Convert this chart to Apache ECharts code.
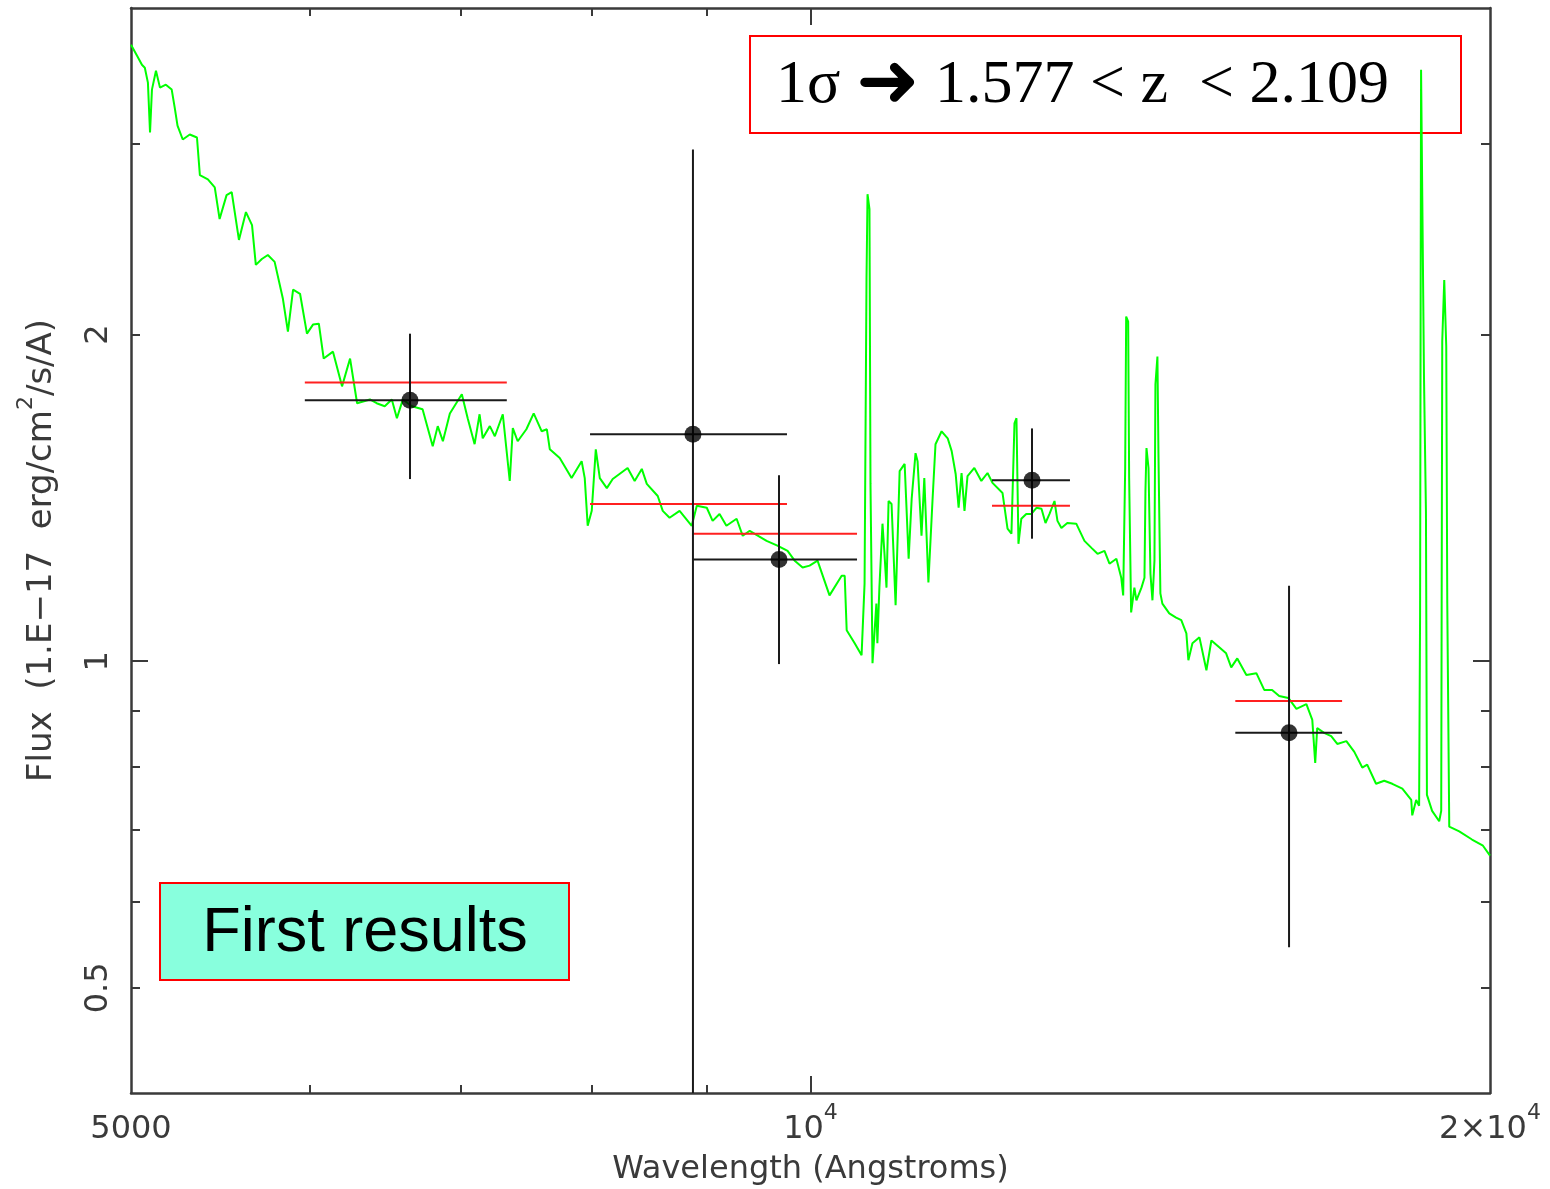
<!DOCTYPE html>
<html>
<head>
<meta charset="utf-8">
<title>Flux vs wavelength</title>
<script src="https://cdn.jsdelivr.net/npm/echarts@6.0.0/dist/echarts.min.js"></script>
<style>
  html, body { margin: 0; padding: 0; background: #fff; }
  #chart { width: 1550px; height: 1189px; }
</style>
</head>
<body>
<div id="chart"></div>
<script>
// template spectrum (Angstrom, 1e-17 erg/cm2/s/A)
const specWave = [
  5000, 5031, 5056, 5071, 5087, 5098, 5108, 5129, 5150, 5181, 5212, 5228, 5243, 5271, 5309, 5348,
  5364, 5408, 5446, 5473, 5512, 5541, 5582, 5622, 5657, 5679, 5714, 5749, 5789, 5838, 5868, 5899,
  5941, 5983, 6020, 6056, 6086, 6144, 6201, 6252, 6297, 6380, 6424, 6477, 6524, 6558, 6598, 6659,
  6732, 6802, 6837, 6873, 6922, 7007, 7049, 7099, 7135, 7158, 7210, 7247, 7306, 7358, 7381, 7418,
  7484, 7540, 7602, 7642, 7665, 7743, 7837, 7918, 7943, 7967, 8000, 8033, 8066, 8124, 8173, 8298,
  8358, 8419, 8462, 8557, 8601, 8661, 8750, 8859, 8905, 8996, 9050, 9114, 9178, 9274, 9332, 9399,
  9562, 9668, 9769, 9840, 9920, 9991, 10072, 10196, 10323, 10355, 10376, 10461, 10535, 10567, 10588, 10599,
  10620, 10631, 10653, 10695, 10706, 10728, 10762, 10784, 10806, 10829, 10862, 10907, 10952, 11008, 11053, 11087,
  11131, 11154, 11199, 11231, 11278, 11325, 11360, 11431, 11502, 11549, 11596, 11631, 11666, 11701, 11737, 11819,
  11904, 11979, 12040, 12164, 12226, 12275, 12313, 12338, 12363, 12399, 12462, 12527, 12592, 12657, 12709, 12761,
  12826, 12865, 12917, 12995, 13114, 13224, 13319, 13402, 13497, 13566, 13662, 13730, 13757, 13785, 13799, 13827,
  13841, 13869, 13915, 13944, 14016, 14059, 14073, 14088, 14117, 14145, 14174, 14203, 14217, 14246, 14261, 14289,
  14318, 14419, 14520, 14597, 14673, 14703, 14764, 14870, 14976, 15052, 15173, 15280, 15360, 15455, 15599, 15759,
  15886, 16014, 16130, 16281, 16416, 16584, 16684, 16734, 16768, 16886, 17009, 17115, 17274, 17415, 17557, 17645,
  17805, 17954, 18103, 18289, 18456, 18475, 18549, 18605, 18623, 18642, 18679, 18698, 18735, 18735, 18754, 18853,
  18990, 19029, 19049, 19088, 19127, 19147, 19186, 19382, 19636, 19857, 20000
];
const specFlux = [
  3.700, 3.614, 3.546, 3.524, 3.414, 3.071, 3.364, 3.501, 3.378, 3.399, 3.364, 3.238, 3.117, 3.026, 3.058, 3.039,
  2.805, 2.781, 2.734, 2.556, 2.689, 2.706, 2.445, 2.594, 2.523, 2.319, 2.348, 2.368, 2.334, 2.158, 2.013, 2.200,
  2.181, 2.004, 2.043, 2.047, 1.901, 1.929, 1.792, 1.901, 1.729, 1.743, 1.729, 1.718, 1.743, 1.675, 1.743, 1.718,
  1.707, 1.578, 1.647, 1.595, 1.692, 1.762, 1.675, 1.585, 1.689, 1.605, 1.647, 1.612, 1.689, 1.466, 1.640, 1.595,
  1.636, 1.692, 1.629, 1.636, 1.568, 1.539, 1.475, 1.529, 1.475, 1.333, 1.376, 1.568, 1.475, 1.444, 1.472, 1.507,
  1.466, 1.504, 1.457, 1.420, 1.376, 1.356, 1.376, 1.333, 1.391, 1.385, 1.347, 1.367, 1.333, 1.353, 1.305, 1.319,
  1.291, 1.278, 1.264, 1.238, 1.220, 1.225, 1.238, 1.150, 1.199, 1.199, 1.068, 1.039, 1.013, 1.179, 2.251, 2.694,
  2.610, 1.457, 0.996, 1.130, 1.039, 1.169, 1.339, 1.256, 1.169, 1.405, 1.396, 1.126, 1.497, 1.520, 1.243, 1.411,
  1.555, 1.529, 1.305, 1.475, 1.182, 1.405, 1.585, 1.629, 1.605, 1.562, 1.488, 1.385, 1.491, 1.376, 1.481, 1.507,
  1.466, 1.491, 1.460, 1.429, 1.325, 1.311, 1.657, 1.675, 1.283, 1.353, 1.367, 1.367, 1.385, 1.382, 1.341, 1.367,
  1.405, 1.347, 1.327, 1.341, 1.339, 1.291, 1.272, 1.256, 1.264, 1.230, 1.243, 1.194, 1.150, 1.507, 2.078, 2.056,
  1.475, 1.109, 1.169, 1.138, 1.169, 1.194, 1.435, 1.572, 1.507, 1.204, 1.138, 1.238, 1.800, 1.909, 1.552, 1.155,
  1.130, 1.107, 1.097, 1.091, 1.061, 1.002, 1.039, 1.052, 0.981, 1.045, 1.030, 1.017, 0.987, 1.006, 0.971, 0.975,
  0.941, 0.941, 0.929, 0.925, 0.904, 0.913, 0.883, 0.806, 0.868, 0.859, 0.853, 0.839, 0.844, 0.825, 0.798, 0.803,
  0.771, 0.776, 0.771, 0.763, 0.745, 0.721, 0.745, 0.736, 1.102, 3.509, 3.509, 1.822, 1.822, 1.373, 0.753, 0.728,
  0.712, 0.728, 1.971, 2.246, 1.950, 1.133, 0.704, 0.697, 0.685, 0.676, 0.662
];

// photometric points with errors
const photWave   = [6646, 8870, 9684, 12535, 16293];
const photFlux   = [1.740, 1.619, 1.241, 1.468, 0.859];
const photWaveLo = [5970, 7986, 8870, 12034, 15424];
const photWaveHi = [7336, 9763, 10486, 13030, 17199];
const photFluxLo = [1.472, 0.300, 0.994, 1.297, 0.545];
const photFluxHi = [2.004, 2.963, 1.484, 1.639, 1.174];

// model fluxes in each band (red)
const modelWaveLo = [5970, 7986, 8870, 12034, 15424];
const modelWaveHi = [7336, 9763, 10486, 13030, 17199];
const modelFlux   = [1.807, 1.396, 1.311, 1.391, 0.919];

// ticks and labels
const xLabelValues = [5000, 10000, 20000];
const xLabelText   = ['{n|5000}', '{n|10}{s|4}', '{n|2×10}{s|4}'];
const xMajorTicks  = [10000];
const xMinorTicks  = [6000, 7000, 8000, 9000];
const yLabelValues = [0.5, 1, 2];
const yLabelText   = ['0.5', '1', '2'];
const yMajorTicks  = [1];
const yMinorTicks  = [0.5, 0.6, 0.7, 0.8, 0.9, 2, 3];

const axisColor = '#3a3a3a';
const font = 'DejaVu Sans';

const chart = echarts.init(document.getElementById('chart'));

function pickLabel(values, texts, v) {
  for (let i = 0; i < values.length; i++) {
    if (Math.abs(values[i] - v) / values[i] < 1e-6) return texts[i];
  }
  return '';
}

function xAxisOf(pos, ticks, len, withLine, withLabels) {
  return {
    type: 'log', logBase: 10, min: 5000, max: 20000, position: pos,
    axisLine: { show: withLine, lineStyle: { color: axisColor, width: 2.5 } },
    axisTick: { show: true, inside: true, length: len, customValues: ticks,
      lineStyle: { color: axisColor, width: 2 } },
    axisLabel: withLabels ? {
      show: true, customValues: xLabelValues, margin: 9,
      formatter: v => pickLabel(xLabelValues, xLabelText, v),
      rich: {
        n: { fontFamily: font, fontSize: 32, color: axisColor, lineHeight: 44, verticalAlign: 'bottom' },
        s: { fontFamily: font, fontSize: 22, color: axisColor, lineHeight: 22, verticalAlign: 'top' }
      }
    } : { show: false },
    splitLine: { show: false },
    minorTick: { show: false }
  };
}

function yAxisOf(pos, ticks, len, withLine, withLabels) {
  return {
    type: 'log', logBase: 10, min: 0.4, max: 4, position: pos,
    axisLine: { show: withLine, lineStyle: { color: axisColor, width: 2.5 } },
    axisTick: { show: true, inside: true, length: len, customValues: ticks,
      lineStyle: { color: axisColor, width: 2 } },
    axisLabel: withLabels ? {
      show: true, customValues: yLabelValues, rotate: 90, margin: 16,
      fontFamily: font, fontSize: 32, color: axisColor,
      formatter: v => pickLabel(yLabelValues, yLabelText, v)
    } : { show: false },
    splitLine: { show: false },
    minorTick: { show: false }
  };
}

const xAxes = [
  xAxisOf('bottom', xMajorTicks, 17, true, true),
  xAxisOf('bottom', xMinorTicks, 8, false, false),
  xAxisOf('top', xMajorTicks, 17, true, false),
  xAxisOf('top', xMinorTicks, 8, false, false)
];
xAxes[0].name = 'Wavelength (Angstroms)';
xAxes[0].nameLocation = 'middle';
xAxes[0].nameGap = 57;
xAxes[0].nameMoveOverlap = false;
xAxes[0].nameTextStyle = { fontFamily: font, fontSize: 32, color: axisColor, lineHeight: 40 };

const yAxes = [
  yAxisOf('left', yMajorTicks, 17, true, true),
  yAxisOf('left', yMinorTicks, 9, false, false),
  yAxisOf('right', yMajorTicks, 17, true, false),
  yAxisOf('right', yMinorTicks, 9, false, false)
];
yAxes[0].name = '{a|Flux  (1.E\u221217  erg/cm}{s|2}{a|/s/A)}';
yAxes[0].nameLocation = 'middle';
yAxes[0].nameGap = 72;
yAxes[0].nameMoveOverlap = false;
yAxes[0].nameTextStyle = {
  rich: {
    a: { fontFamily: font, fontSize: 34, color: axisColor, lineHeight: 44, verticalAlign: 'bottom' },
    s: { fontFamily: font, fontSize: 22, color: axisColor, lineHeight: 22, verticalAlign: 'top' }
  }
};

function renderModel(params, api) {
  const a = api.coord([api.value(0), api.value(2)]);
  const b = api.coord([api.value(1), api.value(2)]);
  return {
    type: 'line',
    shape: { x1: a[0], y1: a[1], x2: b[0], y2: b[1] },
    style: { stroke: '#ff2020', lineWidth: 2 }
  };
}

function renderErr(params, api) {
  const x = api.value(0), y = api.value(1);
  const h0 = api.coord([api.value(2), y]);
  const h1 = api.coord([api.value(3), y]);
  const v0 = api.coord([x, api.value(4)]);
  const v1 = api.coord([x, api.value(5)]);
  const cs = params.coordSys;
  const top = cs.y, bottom = cs.y + cs.height;
  return {
    type: 'group',
    children: [
      { type: 'line', shape: { x1: h0[0], y1: h0[1], x2: h1[0], y2: h1[1] },
        style: { stroke: '#1a1a1a', lineWidth: 2 } },
      { type: 'line', shape: { x1: v0[0], y1: Math.min(v0[1], bottom), x2: v1[0], y2: Math.max(v1[1], top) },
        style: { stroke: '#1a1a1a', lineWidth: 2 } }
    ]
  };
}

const option = {
  backgroundColor: '#fff',
  animation: false,
  grid: { left: 131, right: 60, top: 8, bottom: 96, outerBoundsMode: 'none' },
  xAxis: xAxes,
  yAxis: yAxes,
  series: [
    {
      type: 'line', name: 'template',
      data: specWave.map((w, i) => [w, specFlux[i]]),
      symbol: 'none', showSymbol: false,
      lineStyle: { color: '#00ff00', width: 2 },
      itemStyle: { color: '#00ff00' },
      z: 2
    },
    {
      type: 'custom', name: 'model',
      data: modelFlux.map((f, i) => [modelWaveLo[i], modelWaveHi[i], f]),
      renderItem: renderModel,
      z: 3
    },
    {
      type: 'custom', name: 'errors',
      data: photWave.map((w, i) => [w, photFlux[i], photWaveLo[i], photWaveHi[i], photFluxLo[i], photFluxHi[i]]),
      renderItem: renderErr,
      z: 4
    },
    {
      type: 'scatter', name: 'photometry',
      data: photWave.map((w, i) => [w, photFlux[i]]),
      symbol: 'circle', symbolSize: 17,
      itemStyle: { color: '#000' },
      z: 5
    }
  ],
  graphic: [
    {
      type: 'rect', z: 1,
      shape: { x: 750, y: 36, width: 711, height: 97 },
      style: { fill: 'rgba(255,255,255,0)', stroke: '#ff0000', lineWidth: 2 }
    },
    {
      type: 'text', z: 1,
      style: {
        x: 776, y: 86,
        text: '{a|1\u03c3 }{b|\u279c}{a| 1.577 < z  < 2.109}',
        align: 'left', verticalAlign: 'middle',
        rich: {
          a: { fontFamily: 'Liberation Serif', fontSize: 62, lineHeight: 76, verticalAlign: 'middle', fill: '#000' },
          b: { fontFamily: 'DejaVu Sans', fontSize: 76, lineHeight: 76, verticalAlign: 'middle', fill: '#000' }
        }
      }
    },
    {
      type: 'rect', z: 10,
      shape: { x: 160, y: 883, width: 409, height: 97 },
      style: { fill: '#88ffdd', stroke: '#ff0000', lineWidth: 2 }
    },
    {
      type: 'text', z: 11,
      style: {
        x: 365, y: 934, text: 'First results',
        align: 'center', verticalAlign: 'middle',
        font: '63px "Liberation Sans"', fill: '#000'
      }
    }
  ]
};

chart.setOption(option);
</script>
</body>
</html>
